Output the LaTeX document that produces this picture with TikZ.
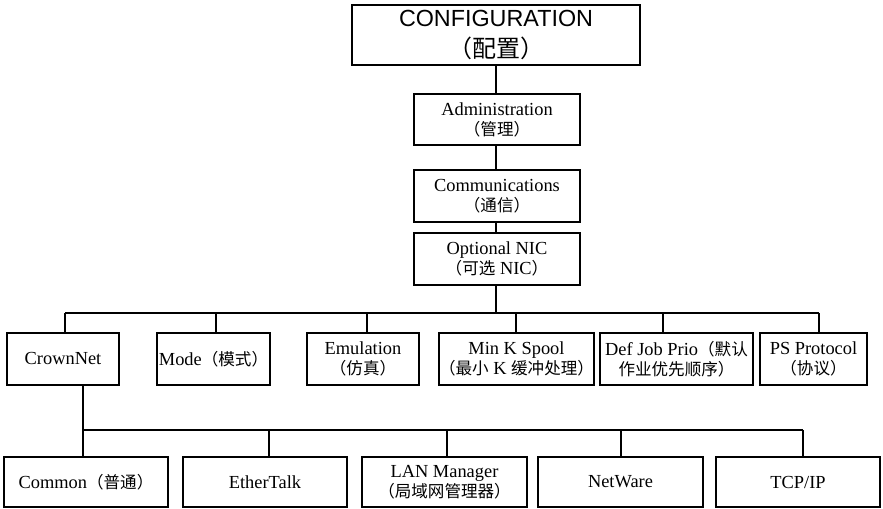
\documentclass[tikz,border=0pt]{standalone}
\usepackage{fontspec}
\setmainfont{Liberation Serif}
\newfontfamily\cjk[Scale=0.9]{Noto Sans CJK SC}
\newfontfamily\arialf{Liberation Sans}
\begin{document}
\begin{tikzpicture}[x=0.75pt,y=-0.75pt,
  box/.style={draw, line width=1.5pt, align=center, inner sep=0pt,
    font=\fontsize{13.8}{15}\selectfont},
  conn/.style={line width=1pt}]
\useasboundingbox (0,0) rectangle (883,509);
% top chain
\node[box, line width=1.8pt, minimum width=288*0.75pt, minimum height=60*0.75pt,
  font=\fontsize{17.5}{23}\selectfont] (conf) at (496,35)
  {\arialf CONFIGURATION\\{\cjk\fontsize{20}{23}\selectfont （配置）}};
\node[box, minimum width=166*0.75pt, minimum height=51*0.75pt] (admin) at (497,119.5)
  {Administration\\{\cjk （管理）}};
\node[box, minimum width=166*0.75pt, minimum height=52*0.75pt] (comm) at (497,196)
  {Communications\\{\cjk （通信）}};
\node[box, minimum width=166*0.75pt, minimum height=52*0.75pt] (opt) at (497,259)
  {Optional NIC\\{\cjk （可选} NIC{\cjk ）}};
% row 2
\node[box, minimum width=112*0.75pt, minimum height=52*0.75pt] (crown) at (63,359) {CrownNet};
\node[box, minimum width=113*0.75pt, minimum height=52*0.75pt] (mode) at (213.5,359) {Mode{\cjk （模式）}};
\node[box, minimum width=112*0.75pt, minimum height=52*0.75pt] (emu) at (363,359) {Emulation\\{\cjk （仿真）}};
\node[box, minimum width=153*0.75pt, minimum height=52*0.75pt] (mink) at (516.5,359) {Min K Spool\\{\cjk （最小} K {\cjk 缓冲处理）}};
\node[box, minimum width=153*0.75pt, minimum height=52*0.75pt] (defj) at (676.5,359) {Def Job Prio{\cjk （默认}\\{\cjk 作业优先顺序）}};
\node[box, minimum width=107*0.75pt, minimum height=52*0.75pt] (ps) at (813.5,359) {PS Protocol\\{\cjk （协议）}};
% row 3
\node[box, minimum width=164*0.75pt, minimum height=50*0.75pt] (common) at (86,482) {Common{\cjk （普通）}};
\node[box, minimum width=164*0.75pt, minimum height=50*0.75pt] (ether) at (265,482) {EtherTalk};
\node[box, minimum width=165*0.75pt, minimum height=50*0.75pt] (lan) at (444.5,482) {LAN Manager\\{\cjk （局域网管理器）}};
\node[box, minimum width=165*0.75pt, minimum height=50*0.75pt] (netw) at (620.5,482) {NetWare};
\node[box, minimum width=164*0.75pt, minimum height=50*0.75pt] (tcp) at (798,482) {TCP/IP};
% bus coordinates
\coordinate (t0) at (496,65);
\coordinate (b0) at (496,313);
\coordinate (bl) at (65,313);
\coordinate (br) at (819,313);
\coordinate (c0) at (83,385);
\coordinate (cl) at (83,430);
\coordinate (cr) at (803,430);
% connectors
\draw[conn] (conf.south -| t0) -- (admin.north -| t0);
\draw[conn] (admin.south -| t0) -- (comm.north -| t0);
\draw[conn] (comm.south -| t0) -- (opt.north -| t0);
\draw[conn] (opt.south -| t0) -- (b0);
\draw[conn] (bl) -- (br);
\draw[conn] (bl) -- (crown.north -| bl);
\draw[conn] (216,313) -- (mode.north -| 216,0);
\draw[conn] (367,313) -- (emu.north -| 367,0);
\draw[conn] (516,313) -- (mink.north -| 516,0);
\draw[conn] (663,313) -- (defj.north -| 663,0);
\draw[conn] (br) -- (ps.north -| br);
\draw[conn] (crown.south -| c0) -- (cl);
\draw[conn] (cl) -- (cr);
\draw[conn] (cl) -- (common.north -| cl);
\draw[conn] (269,430) -- (ether.north -| 269,0);
\draw[conn] (447,430) -- (lan.north -| 447,0);
\draw[conn] (621,430) -- (netw.north -| 621,0);
\draw[conn] (cr) -- (tcp.north -| cr);
\end{tikzpicture}
\end{document}
